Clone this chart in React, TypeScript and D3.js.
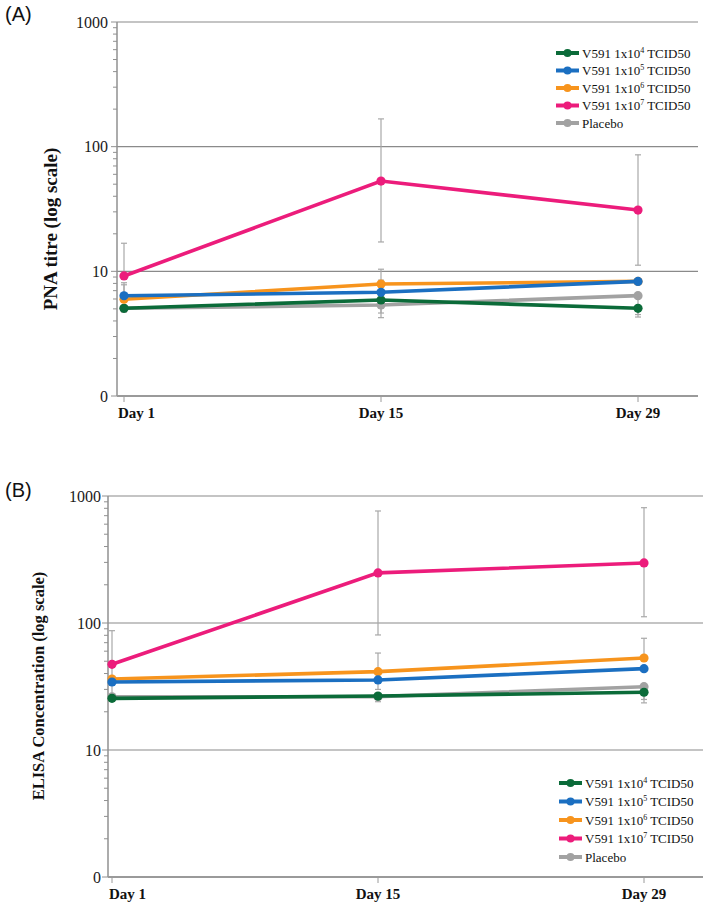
import React from 'react';
import * as d3 from 'd3';

// ---------- data ----------
const days = [1, 15, 29];
const dayLabels = ['Day 1', 'Day 15', 'Day 29'];
const yTickValues = [1, 10, 100, 1000];
const yTickLabels = ['0', '10', '100', '1000'];

const legendPrefix = ['V591 1x10', 'V591 1x10', 'V591 1x10', 'V591 1x10', 'Placebo'];
const legendSup = ['4', '5', '6', '7', ''];
const legendSuffix = [' TCID50', ' TCID50', ' TCID50', ' TCID50', ''];
const seriesColors = ['#0b6b39', '#1b6fc1', '#f7941d', '#ec1c7b', '#a2a2a2'];

// Panel A: PNA titre
const pnaE4 = [5.05, 5.89, 5.05];
const pnaE5 = [6.37, 6.79, 8.3];
const pnaE6 = [5.97, 7.91, 8.3];
const pnaE7 = [9.18, 53, 31];
const pnaPlacebo = [5.05, 5.37, 6.38];
const pnaE4Lo = [4.7, 4.63, 4.5];
const pnaE4Hi = [5.05, 5.89, 5.05];
const pnaE5Lo = [6.37, 5.5, 8.3];
const pnaE5Hi = [8.1, 8.5, 8.3];
const pnaE6Lo = [5.97, 4.25, 8.3];
const pnaE6Hi = [7.8, 10.4, 8.3];
const pnaE7Lo = [9.18, 17.2, 11.2];
const pnaE7Hi = [16.8, 167, 86];
const pnaPlaceboLo = [4.9, 5.37, 4.3];
const pnaPlaceboHi = [5.05, 5.37, 6.38];

// Panel B: ELISA concentration
const elisaE4 = [25.5, 26.6, 28.5];
const elisaE5 = [34.3, 35.6, 43.7];
const elisaE6 = [36.2, 41.4, 53];
const elisaE7 = [47.3, 248, 297];
const elisaPlacebo = [26.2, 26.3, 31.5];
const elisaE4Lo = [25.5, 24, 23.5];
const elisaE4Hi = [25.5, 26.6, 28.5];
const elisaE5Lo = [34.3, 30, 43.7];
const elisaE5Hi = [34.3, 35.6, 43.7];
const elisaE6Lo = [36.2, 41.4, 53];
const elisaE6Hi = [36.2, 58, 75.8];
const elisaE7Lo = [25, 80.5, 112];
const elisaE7Hi = [87, 762, 809];
const elisaPlaceboLo = [26.2, 26.3, 25];
const elisaPlaceboHi = [26.2, 26.3, 31.5];

const drawOrder = [4, 0, 2, 1, 3];

type PanelProps = {
  tag: string;
  tagY: number;
  yTitle: string;
  values: number[][];
  lo: number[][];
  hi: number[][];
  axisX: number;
  right: number;
  top: number;
  bottom: number;
  x0: number;
  x1: number;
  titleX: number;
  titleY: number;
  titleSize: number;
  tickGap: number;
  legendX: number;
  legendY: number;
  legendStep: number;
};

const SERIF = '"Liberation Serif", "Times New Roman", serif';

function Panel(p: PanelProps) {
  const x = d3.scaleLinear().domain([days[0], days[days.length - 1]]).range([p.x0, p.x1]);
  const y = d3.scaleLog().domain([1, 1000]).range([p.bottom, p.top]);
  const line = d3
    .line<number>()
    .x((_, i) => x(days[i]))
    .y((v) => y(v));
  const minor: number[] = [];
  [1, 10, 100].forEach((d) => {
    for (let k = 2; k <= 9; k++) minor.push(d * k);
  });
  return (
    <g>
      <text x={5} y={p.tagY} fontFamily='"Liberation Sans", Arial, sans-serif' fontSize={20} fill="#111">
        {p.tag}
      </text>
      {/* gridlines */}
      {yTickValues.slice(1).map((v) => (
        <line key={'g' + v} x1={p.axisX} x2={p.right} y1={y(v)} y2={y(v)} stroke="#8a8a8a" strokeWidth={1.2} />
      ))}
      {/* y axis */}
      <line x1={p.axisX} x2={p.axisX} y1={p.top} y2={p.bottom} stroke="#909090" strokeWidth={1.5} />
      {minor.map((v) => (
        <line key={'m' + v} x1={p.axisX - 4} x2={p.axisX} y1={y(v)} y2={y(v)} stroke="#909090" strokeWidth={1} />
      ))}
      {yTickValues.map((v, i) => (
        <g key={'t' + v}>
          <line x1={p.axisX - 6} x2={p.axisX} y1={y(v)} y2={y(v)} stroke="#909090" strokeWidth={1} />
          <text
            x={p.axisX - p.tickGap}
            y={y(v)}
            dy="0.35em"
            textAnchor="end"
            fontFamily={SERIF}
            fontSize={16}
            fill="#1a1a1a"
          >
            {yTickLabels[i]}
          </text>
        </g>
      ))}
      {/* x axis */}
      <line x1={p.axisX} x2={p.right} y1={p.bottom} y2={p.bottom} stroke="#9a9a9a" strokeWidth={2} />
      {days.map((d, i) => (
        <g key={'x' + d}>
          <line x1={x(d)} x2={x(d)} y1={p.bottom} y2={p.bottom + 6} stroke="#9a9a9a" strokeWidth={1} />
          <text
            x={i === 0 ? p.axisX + 1 : x(d)}
            y={p.bottom + 22}
            textAnchor={i === 0 ? 'start' : 'middle'}
            fontFamily={SERIF}
            fontWeight="bold"
            fontSize={15}
            fill="#111"
          >
            {dayLabels[i]}
          </text>
        </g>
      ))}
      {/* y title */}
      <text
        transform={`translate(${p.titleX},${p.titleY}) rotate(-90)`}
        textAnchor="middle"
        fontFamily={SERIF}
        fontWeight="bold"
        fontSize={p.titleSize}
        fill="#111"
      >
        {p.yTitle}
      </text>
      {/* error bars */}
      {drawOrder.map((s) =>
        days.map((d, i) => {
          const lo = p.lo[s][i];
          const hi = p.hi[s][i];
          const cx = x(d);
          const parts = [];
          if (hi > p.values[s][i])
            parts.push(
              <g key={'h'}>
                <line x1={cx} x2={cx} y1={y(p.values[s][i])} y2={y(hi)} stroke="#a8a8a8" strokeWidth={1.2} />
                <line x1={cx - 3} x2={cx + 3} y1={y(hi)} y2={y(hi)} stroke="#a8a8a8" strokeWidth={1.2} />
              </g>
            );
          if (lo < p.values[s][i])
            parts.push(
              <g key={'l'}>
                <line x1={cx} x2={cx} y1={y(p.values[s][i])} y2={y(lo)} stroke="#a8a8a8" strokeWidth={1.2} />
                <line x1={cx - 3} x2={cx + 3} y1={y(lo)} y2={y(lo)} stroke="#a8a8a8" strokeWidth={1.2} />
              </g>
            );
          return <g key={'e' + s + '-' + i}>{parts}</g>;
        })
      )}
      {/* series */}
      {drawOrder.map((s) => (
        <g key={'s' + s}>
          <path d={line(p.values[s]) || ''} fill="none" stroke={seriesColors[s]} strokeWidth={3.6} />
          {p.values[s].map((v, i) => (
            <circle key={i} cx={x(days[i])} cy={y(v)} r={4.6} fill={seriesColors[s]} />
          ))}
        </g>
      ))}
      {/* legend */}
      {legendPrefix.map((t, i) => {
        const ly = p.legendY + i * p.legendStep;
        return (
          <g key={'lg' + i}>
            <line x1={p.legendX} x2={p.legendX + 23} y1={ly} y2={ly} stroke={seriesColors[i]} strokeWidth={4} />
            <circle cx={p.legendX + 11.5} cy={ly} r={4} fill={seriesColors[i]} />
            <text x={p.legendX + 26} y={ly} dy="0.35em" fontFamily={SERIF} fontSize={13} fill="#111">
              {t}
              {legendSup[i] && (
                <tspan fontSize={8} dy="-5">
                  {legendSup[i]}
                </tspan>
              )}
              {legendSuffix[i] && <tspan dy={legendSup[i] ? '5' : '0'}>{legendSuffix[i]}</tspan>}
            </text>
          </g>
        );
      })}
    </g>
  );
}

export default function App() {
  return (
    <svg
      width={713}
      height={910}
      style={{ position: 'absolute', left: 0, top: 0, background: '#fff' }}
    >
      <rect width={713} height={910} fill="#fff" />
      <Panel
        tag="(A)"
        tagY={21}
        yTitle="PNA titre (log scale)"
        values={[pnaE4, pnaE5, pnaE6, pnaE7, pnaPlacebo]}
        lo={[pnaE4Lo, pnaE5Lo, pnaE6Lo, pnaE7Lo, pnaPlaceboLo]}
        hi={[pnaE4Hi, pnaE5Hi, pnaE6Hi, pnaE7Hi, pnaPlaceboHi]}
        axisX={117}
        right={698}
        top={22}
        bottom={396}
        x0={124}
        x1={638}
        titleX={57}
        titleY={229}
        titleSize={19}
        tickGap={9}
        legendX={556}
        legendY={53}
        legendStep={17.5}
      />
      <Panel
        tag="(B)"
        tagY={497}
        yTitle="ELISA Concentration (log scale)"
        values={[elisaE4, elisaE5, elisaE6, elisaE7, elisaPlacebo]}
        lo={[elisaE4Lo, elisaE5Lo, elisaE6Lo, elisaE7Lo, elisaPlaceboLo]}
        hi={[elisaE4Hi, elisaE5Hi, elisaE6Hi, elisaE7Hi, elisaPlaceboHi]}
        axisX={108}
        right={703}
        top={496}
        bottom={877}
        x0={112}
        x1={644}
        titleX={44}
        titleY={686}
        titleSize={16.5}
        tickGap={7}
        legendX={559}
        legendY={783}
        legendStep={18.5}
      />
    </svg>
  );
}
